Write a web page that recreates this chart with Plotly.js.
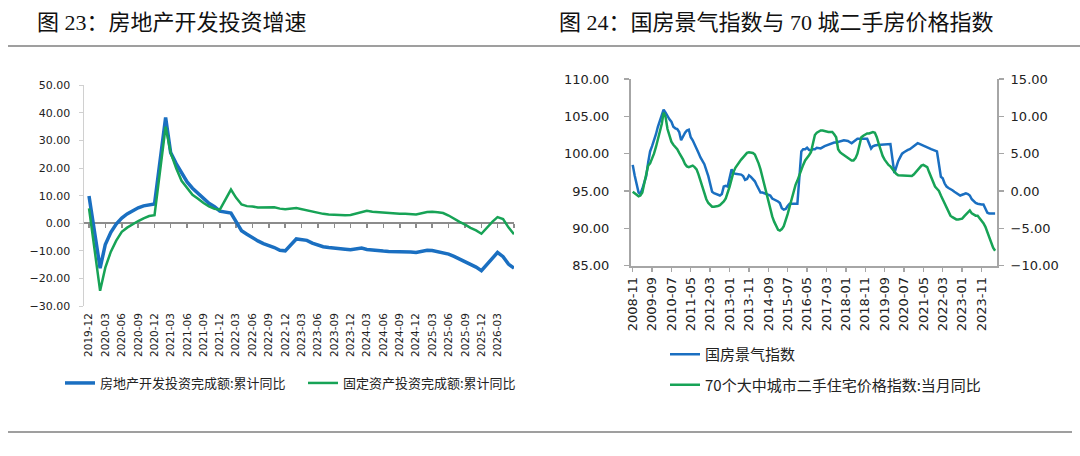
<!DOCTYPE html>
<html>
<head>
<meta charset="utf-8">
<script src="https://cdn.plot.ly/plotly-3.0.1.min.js"></script>
<style>
  html, body { margin: 0; padding: 0; background: #fff; }
  #chart { width: 1080px; height: 456px; }
</style>
</head>
<body>
<div id="chart"></div>
<script>
// 图 23：月度，2019-12 ~ 2026-06（1 月不公布，记 null）
var leftDates = monthSeries(2019, 12, 79, 1);
var reInvest = [9.9,
  null, -16.3, -7.7, -3.3, -0.3, 1.9, 3.4, 4.6, 5.6, 6.3, 6.8, 7.0,
  null, 38.3, 25.6, 21.6, 18.3, 15.0, 12.7, 10.9, 8.8, 7.2, 6.0, 4.4,
  null, 3.7, 0.7, -2.7, -4.0, -5.4, -6.4, -7.4, -8.0, -8.8, -9.8, -10.0,
  null, -5.7, -5.8, -6.2, -7.2, -7.9, -8.5, -8.8, -9.1, -9.3, -9.4, -9.6,
  null, -9.0, -9.5, -9.8, -10.1, -10.1, -10.2, -10.2, -10.1, -10.3, -10.4, -10.6,
  null, -9.8, -9.9, -10.3, -10.7, -11.2, -12.0, -12.9, -13.9, -14.7, -15.9, -17.2,
  null, -12.7, -10.6, -12.1, -14.8, -16.3];
var fixedInvest = [5.4,
  null, -24.5, -16.1, -10.3, -6.3, -3.1, -1.6, -0.3, 0.8, 1.8, 2.6, 2.9,
  null, 35.0, 25.6, 19.9, 15.4, 12.6, 10.3, 8.9, 7.3, 6.1, 5.2, 4.9,
  null, 12.2, 9.3, 6.8, 6.2, 6.1, 5.7, 5.8, 5.9, 5.8, 5.3, 5.1,
  null, 5.5, 5.1, 4.7, 4.0, 3.8, 3.4, 3.2, 3.1, 2.9, 2.9, 3.0,
  null, 4.2, 4.5, 4.2, 4.0, 3.9, 3.6, 3.4, 3.4, 3.4, 3.3, 3.2,
  null, 4.1, 4.2, 4.0, 3.7, 2.8, 1.6, 0.5, -0.5, -1.7, -2.6, -3.8,
  null, 0.6, 2.2, 1.5, -1.5, -4.0];
var leftLabels = monthSeries(2019, 12, 26, 3);   // 2019-12 ... 2026-03
var leftTickMarks = monthSeries(2019, 12, 27, 3);

// 图 24：月度，2008-11 ~ 2024-06
var rightDates = monthSeries(2008, 11, 188, 1);
var climateIndex = [98.5, 97.1,
  null, 94.8, 94.6, 95.3, 96.2, 97.0, 98.8, 100.3, 101.0, 101.7, 102.6, 103.6,
  null, 105.4, 105.9, 105.5, 105.0, 104.6, 104.3, 103.6, 103.4, 103.3, 102.9, 101.8,
  null, 102.8, 103.1, 103.2, 102.2, 101.8, 101.3, 100.6, 100.1, 99.5, 99.0, 98.6,
  null, 97.0, 95.8, 94.9, 94.7, 94.6, 94.5, 94.4, 94.6, 95.6, 95.7, 95.6,
  null, 97.9, 97.4, 97.3, 97.3, 97.3, 97.2, 97.0, 96.5, 96.6, 97.1, 96.9,
  null, 96.3, 95.8, 95.2, 94.8, 94.8, 94.7, 94.7, 94.6, 94.4, 94.0, 93.9,
  null, 93.6, 93.4, 92.7, 92.5, 92.6, 93.0, 93.3, 93.3, 93.3, 93.3, 93.3,
  null, 100.3, 100.6, 100.6, 100.8, 100.5, 100.4, 100.6, 100.6, 100.8, 100.8, 100.7,
  null, 101.0, 101.1, 101.2, 101.3, 101.4, 101.5, 101.5, 101.6, 101.7, 101.8, 101.8,
  null, 101.7, 101.5, 101.4, 101.6, 101.8, 102.0, 102.0, 102.0, 102.0, 102.0, 102.0,
  null, 100.7, 101.0, 101.1, 101.2, 101.2, 101.2, 101.2, 101.2, 101.3, 101.3, 101.3,
  null, 97.4, 98.3, 99.0, 99.5, 100.0, 100.2, 100.4, 100.5, 100.6, 100.8, 100.9,
  null, 101.4, 101.3, 101.2, 101.0, 100.9, 100.8, 100.7, 100.6, 100.5, 100.4, 100.3,
  null, 96.9, 96.7, 96.0, 95.6, 95.4, 95.3, 95.1, 94.9, 94.7, 94.5, 94.4,
  null, 94.6, 94.7, 94.6, 94.4, 93.9, 93.6, 93.4, 93.3, 93.2, 93.2, 93.2,
  null, 92.1, 92.0, 92.0, 92.0, 92.0];
var resalePrice = [-0.1, -0.3,
  -0.5, -0.7, -0.6, -0.2, 1.0, 2.4, 3.4, 3.7, 4.3, 5.0, 5.9, 6.9,
  8.0, 9.0, 10.5, 9.9, 8.3, 7.3, 6.6, 6.2, 5.9, 5.6, 5.1, 4.7,
  4.2, 3.6, 3.3, 3.2, 3.3, 3.4, 3.2, 2.9, 2.2, 1.4, 0.5, -0.3,
  -1.1, -1.6, -1.9, -2.1, -2.1, -2.1, -2.0, -1.9, -1.7, -1.4, -1.0, -0.3,
  0.6, 1.6, 2.5, 3.1, 3.5, 3.8, 4.2, 4.5, 4.8, 5.1, 5.2, 5.2,
  5.1, 4.9, 4.4, 3.7, 2.9, 1.8, 0.8, -0.4, -1.5, -2.6, -3.4, -4.1,
  -4.7, -5.2, -5.3, -5.1, -4.7, -4.0, -3.1, -2.1, -1.0, 0.0, 0.8, 1.4,
  2.2, 2.8, 3.5, 4.1, 4.4, 4.8, 5.2, 6.3, 7.5, 7.8, 8.0, 8.1,
  8.1, 8.0, 7.9, 7.9, 7.9, 7.9, 7.6, 7.2, 5.6, 5.2, 5.0, 4.8,
  4.6, 4.4, 4.2, 4.1, 4.1, 4.4, 5.0, 6.3, 7.2, 7.4, 7.6, 7.7,
  7.7, 7.8, 7.9, 7.8, 7.2, 6.3, 5.5, 4.7, 4.2, 3.8, 3.5, 3.3,
  2.9, 2.5, 2.3, 2.1, 2.1, 2.1, 2.1, 2.1, 2.1, 2.1, 2.0, 2.2,
  2.5, 2.9, 3.2, 3.4, 3.5, 3.4, 3.2, 2.5, 1.8, 1.1, 0.6, 0.3,
  0.0, -0.6, -1.1, -1.7, -2.4, -2.9, -3.3, -3.5, -3.7, -3.8, -3.8, -3.8,
  -3.7, -3.4, -3.1, -2.8, -2.6, -3.0, -3.2, -3.3, -3.3, -3.6, -3.9, -4.3,
  -4.8, -5.5, -6.3, -7.0, -7.6, -8.0];
var rightLabels = monthSeries(2008, 11, 19, 10);  // 2008-11 ... 2023-11

function monthSeries(y, m, n, step) {
  var out = [];
  for (var i = 0; i < n; i++) {
    var t = (m - 1) + i * step;
    var mm = t % 12 + 1;
    out.push((y + Math.floor(t / 12)) + '-' + (mm < 10 ? '0' : '') + mm + '-01');
  }
  return out;
}

var BLUE = '#1a6fc1', GREEN = '#17a356';
var H = 456, W = 1080;
function py(p) { return 1 - p / H; }
function px(p) { return p / W; }

var leftRange = ['2019-11-03', '2026-06-01'];

// 绿线挂在零轴 (x3) 上，这样零轴带刻度并且绿线画在蓝线之上
var traces = [
  {x: leftDates, y: reInvest, xaxis: 'x', yaxis: 'y', mode: 'lines', connectgaps: true,
   name: '房地产开发投资完成额:累计同比', line: {color: BLUE, width: 3.5}, legend: 'legend'},
  {x: leftDates, y: fixedInvest, xaxis: 'x3', yaxis: 'y', mode: 'lines', connectgaps: true,
   name: '固定资产投资完成额:累计同比', line: {color: GREEN, width: 2.5}, legend: 'legend'},
  {x: rightDates, y: climateIndex, xaxis: 'x2', yaxis: 'y2', mode: 'lines', connectgaps: true,
   name: '国房景气指数', line: {color: BLUE, width: 2.5}, legend: 'legend2', legendgroup: 'a'},
  {x: rightDates, y: resalePrice, xaxis: 'x2', yaxis: 'y3', mode: 'lines', connectgaps: true,
   name: '70个大中城市二手住宅价格指数:当月同比', line: {color: GREEN, width: 2.5}, legend: 'legend2', legendgroup: 'b'}
];

var numFont = 'DejaVu Sans, Noto Sans CJK SC';
var cjkFont = 'Noto Sans CJK SC, DejaVu Sans';
var leftYDomain = [py(306), py(85.3)];
var zeroPos = leftYDomain[0] + (leftYDomain[1] - leftYDomain[0]) * 30 / 80;

var layout = {
  width: W, height: H,
  margin: {l: 0, r: 0, t: 0, b: 0},
  paper_bgcolor: '#fff', plot_bgcolor: 'rgba(0,0,0,0)',
  font: {family: numFont, color: '#222'},
  showlegend: true,
  xaxis: {domain: [px(84), px(514)], anchor: 'y', type: 'date',
    range: leftRange, tickvals: leftLabels, tickformat: '%Y-%m',
    tickangle: -90, showline: false, ticks: '', showgrid: false, zeroline: false,
    tickfont: {size: 10.5, color: '#222'}, ticklabelstandoff: 4},
  xaxis3: {overlaying: 'x', anchor: 'free', position: zeroPos, type: 'date',
    range: leftRange, tickvals: leftTickMarks, showticklabels: false,
    showline: true, linecolor: '#8c8c8c', linewidth: 2, ticks: 'outside', ticklen: 4,
    tickcolor: '#8c8c8c', tickwidth: 1.5, showgrid: false, zeroline: false,
    layer: 'below traces'},
  yaxis: {domain: leftYDomain, anchor: 'x', range: [-30, 50], dtick: 10, tickformat: '.2f',
    showgrid: false, zeroline: false, showline: true, linecolor: '#d0d0d0', linewidth: 1.5,
    ticks: 'outside', ticklen: 4, tickcolor: '#d0d0d0', tickfont: {size: 11, color: '#222'},
    ticklabelstandoff: 6},
  xaxis2: {domain: [px(631), px(997)], anchor: 'y2', type: 'date',
    range: ['2008-10-05', '2024-07-01'], tickvals: rightLabels, tickformat: '%Y-%m',
    tickangle: -90, showline: true, linecolor: '#a6a6a6', linewidth: 2, ticks: 'outside',
    ticklen: 4, tickcolor: '#a6a6a6', tickwidth: 1.5, showgrid: false, zeroline: false,
    tickfont: {size: 13, color: '#222'}},
  yaxis2: {domain: [py(265.7), py(79)], anchor: 'x2', range: [85, 110], dtick: 5,
    tickformat: '.2f', showgrid: false, zeroline: false, showline: true, linecolor: '#a6a6a6',
    linewidth: 2, ticks: 'outside', ticklen: 5, tickcolor: '#a6a6a6', tickwidth: 1.5,
    tickfont: {size: 13, color: '#222'}, ticklabelstandoff: 12},
  yaxis3: {overlaying: 'y2', anchor: 'x2', side: 'right', range: [-10, 15], dtick: 5,
    tickformat: '.2f', showgrid: false, zeroline: false, showline: true, linecolor: '#a6a6a6',
    linewidth: 2, ticks: 'outside', ticklen: 5, tickcolor: '#a6a6a6', tickwidth: 1.5,
    tickfont: {size: 13, color: '#222'}, ticklabelstandoff: 4},
  legend: {orientation: 'h', x: px(60), xanchor: 'left', y: py(383), yanchor: 'middle',
    bgcolor: 'rgba(0,0,0,0)', font: {family: cjkFont, size: 13, color: '#222'},
    entrywidth: 198},
  legend2: {orientation: 'v', x: px(665), xanchor: 'left', y: py(338), yanchor: 'top',
    bgcolor: 'rgba(0,0,0,0)', font: {family: cjkFont, size: 15, color: '#222'},
    tracegroupgap: 8},
  annotations: [
    {text: '图 23：房地产开发投资增速', xref: 'paper', yref: 'paper', x: px(35), y: py(22),
     xanchor: 'left', yanchor: 'middle', showarrow: false,
     font: {family: 'Liberation Serif, Noto Sans CJK SC', size: 22, color: '#111'}},
    {text: '图 24：国房景气指数与 70 城二手房价格指数', xref: 'paper', yref: 'paper', x: px(557), y: py(22),
     xanchor: 'left', yanchor: 'middle', showarrow: false,
     font: {family: 'Liberation Serif, Noto Sans CJK SC', size: 22, color: '#111'}}
  ],
  shapes: [
    {type: 'line', xref: 'paper', yref: 'paper', x0: px(8), x1: 1, y0: py(46), y1: py(46),
     line: {color: '#7f7f7f', width: 1.5}},
    {type: 'line', xref: 'paper', yref: 'paper', x0: px(8), x1: px(1072), y0: py(432), y1: py(432),
     line: {color: '#7f7f7f', width: 1.5}}
  ]
};

Plotly.newPlot('chart', traces, layout, {displayModeBar: false, staticPlot: true});
</script>
</body>
</html>
